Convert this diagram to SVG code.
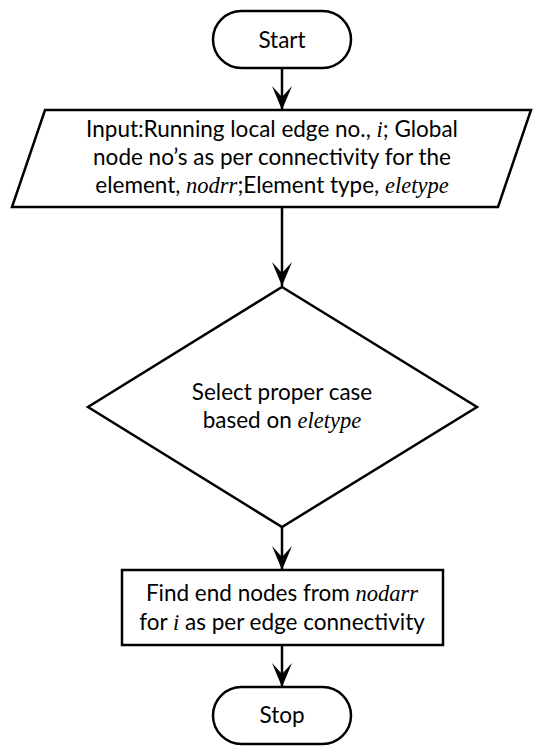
<svg xmlns="http://www.w3.org/2000/svg" width="545" height="747" viewBox="0 0 545 747">
  <style>
    .shape { fill: #fff; stroke: #000; stroke-width: 2.5; }
    .edge { fill: none; stroke: #000; stroke-width: 2.5; }
    .t { font-family: "Lato", "DejaVu Sans", sans-serif; font-size: 22.5px; fill: #000; text-anchor: middle; }
    .m { font-family: "Liberation Serif", serif; font-style: italic; }
  </style>
  <defs>
    <!-- barbed arrowhead, tip at the end of the path -->
    <marker id="arrow" viewBox="0 0 24 20" refX="24" refY="10" markerWidth="24" markerHeight="20" markerUnits="userSpaceOnUse" orient="auto">
      <path d="M24 10 L0 0 L11 10 L0 20 Z" fill="#000"/>
    </marker>
  </defs>
  <rect width="545" height="747" fill="#fff"/>

  <g id="connectors">
    <line class="edge" x1="282" y1="68" x2="282" y2="110" marker-end="url(#arrow)"/>
    <line class="edge" x1="282" y1="207" x2="282" y2="286" marker-end="url(#arrow)"/>
    <line class="edge" x1="282" y1="527" x2="282" y2="570" marker-end="url(#arrow)"/>
    <line class="edge" x1="282" y1="645" x2="282" y2="687" marker-end="url(#arrow)"/>
  </g>

  <g id="start">
    <rect class="shape" x="213" y="11" width="138" height="57" rx="28.5"/>
    <text class="t" x="282" y="48">Start</text>
  </g>

  <g id="input">
    <polygon class="shape" points="45,110 531,110 498,207 12,207"/>
    <text class="t" x="272" y="137">Input:Running local edge no., <tspan class="m">i</tspan>; Global</text>
    <text class="t" x="272" y="165">node no’s as per connectivity for the</text>
    <text class="t" x="272" y="193">element, <tspan class="m">nodrr</tspan>;Element type, <tspan class="m">eletype</tspan></text>
  </g>

  <g id="select">
    <polygon class="shape" points="282,287 477,407 282,527 88,407"/>
    <text class="t" x="282" y="400">Select proper case</text>
    <text class="t" x="282" y="428">based on <tspan class="m">eletype</tspan></text>
  </g>

  <g id="find">
    <rect class="shape" x="122" y="570" width="321" height="75"/>
    <text class="t" x="282" y="601">Find end nodes from <tspan class="m">nodarr</tspan></text>
    <text class="t" x="282" y="630">for <tspan class="m">i</tspan> as per edge connectivity</text>
  </g>

  <g id="stop">
    <rect class="shape" x="213" y="687" width="138" height="57" rx="28.5"/>
    <text class="t" x="282" y="723">Stop</text>
  </g>
</svg>
